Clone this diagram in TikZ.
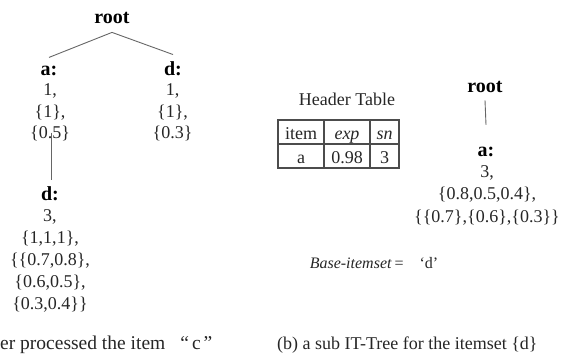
\documentclass[tikz,border=0pt]{standalone}
\usepackage{fontspec}
\setmainfont{Liberation Serif}
\begin{document}
\begin{tikzpicture}[x=1pt,y=-1pt,
  lbl/.style={font=\fontsize{20}{22}\selectfont\bfseries, inner sep=0pt, anchor=base, text=black},
  cnt/.style={font=\fontsize{18}{21.5}\selectfont, inner sep=0pt, anchor=base, align=center, text=black!85},
  plain/.style={font=\fontsize{18}{20}\selectfont, inner sep=0pt, text=black!85},
  edge/.style={draw=black!60, line width=0.9pt},
  cell/.style={draw=black!70, line width=1.1pt, minimum height=24pt, inner sep=0pt,
    text height=14pt, text depth=0pt, font=\fontsize{18}{20}\selectfont, text=black!85}]
\useasboundingbox (0,0) rectangle (570,360);

% ---- left tree ----
\node[lbl] (rootL) at (112,23) {root};
\node[lbl] (aL) at (49,75) {a:};
\node[lbl] (dR1) at (173,75) {d:};
\node[cnt] (aC) at (50,138.5) {1,\\\{1\},\\\{0.5\}};
\node[cnt] (dC1) at (172.5,138.5) {1,\\\{1\},\\\{0.3\}};
\node[lbl] (dL) at (50,200) {d:};
\node[cnt, font=\fontsize{18}{22}\selectfont] (dC) at (50,309.5)
  {3,\\\{1,1,1\},\\\{\{0.7,0.8\},\\\{0.6,0.5\},\\\{0.3,0.4\}\}};

\draw[edge] ([yshift=-9pt]rootL.south) -- ([yshift=8pt]aL.north);
\draw[edge] ([yshift=-9pt]rootL.south) -- ([yshift=6.4pt]dR1.north);
\draw[edge] ([xshift=1pt,yshift=8.5pt]aC.south) -- ([xshift=1pt,yshift=6.4pt]dL.north);

% ---- header table ----
\node[plain, anchor=base] (hdr) at (347,105) {Header Table};
\node[cell, minimum width=46pt] (c11) at (301,132) {item};
\node[cell, minimum width=46pt] (c12) at (347,132) {\textit{exp}};
\node[cell, minimum width=29pt] (c13) at (384.5,132) {\textit{sn}};
\node[cell, minimum width=46pt] (c21) at (301,156) {a};
\node[cell, minimum width=46pt] (c22) at (347,156) {0.98};
\node[cell, minimum width=29pt] (c23) at (384.5,156) {3};

% ---- right tree ----
\node[lbl] (rootR) at (485,92) {root};
\node[lbl] (aR) at (486,156) {a:};
\node[cnt, font=\fontsize{18}{22.5}\selectfont] (aRC) at (487,222)
  {3,\\\{0.8,0.5,0.4\},\\\{\{0.7\},\{0.6\},\{0.3\}\}};
\draw[edge] ([yshift=-8pt]rootR.south) -- ([yshift=21.6pt]aR.north);

\node[plain, anchor=base, font=\fontsize{16}{18}\selectfont] (base) at (374,268)
  {\textit{Base-itemset}\,=\quad‘d’};

% ---- captions ----
\node[plain, anchor=base west, font=\fontsize{19.5}{21}\selectfont] (capA) at (0,349)
  {er processed the item\hspace{15pt}“\hspace{3pt}c\hspace{3pt}”};
\node[plain, anchor=base west] (capB) at (277,349) {(b) a sub IT-Tree for the itemset \{d\}};
\end{tikzpicture}
\end{document}
